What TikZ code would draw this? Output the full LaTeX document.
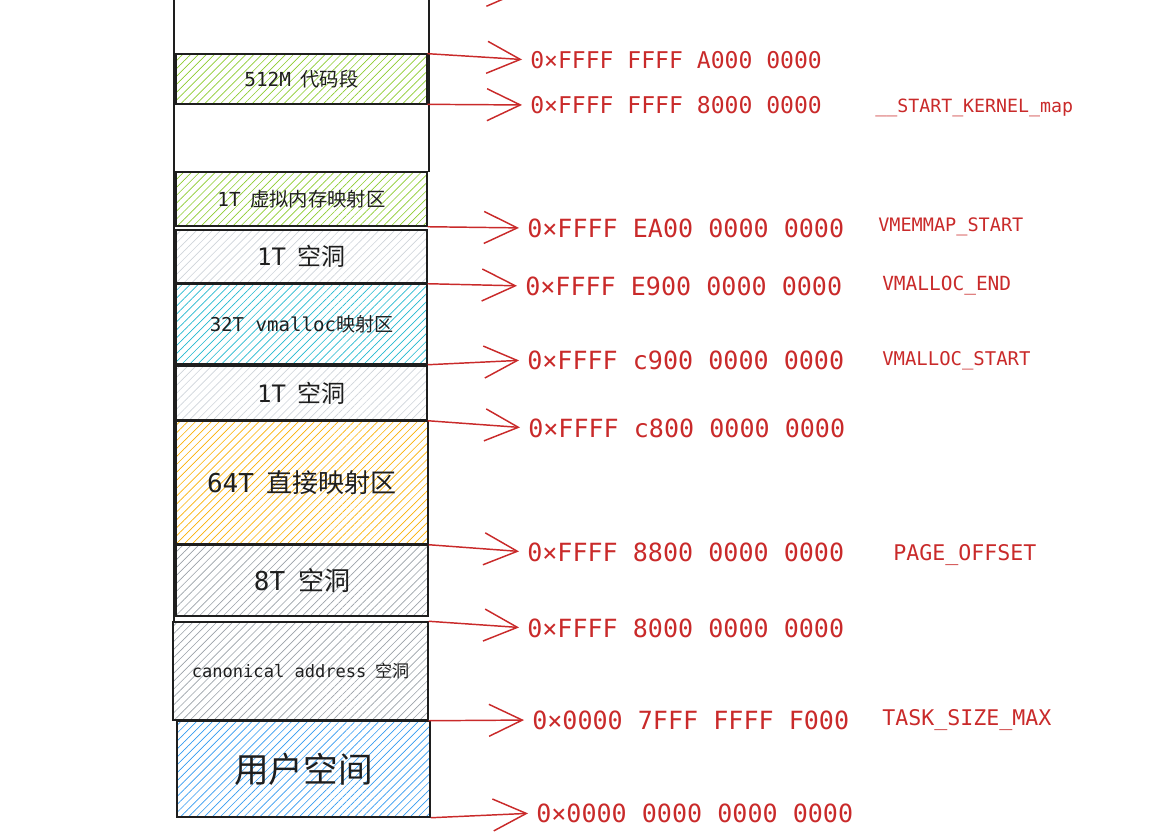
\documentclass[tikz,border=0pt]{standalone}
\usepackage{fontspec}
\setmonofont{DejaVu Sans Mono}
\newfontfamily\monof{DejaVu Sans Mono}
\newfontfamily\cjkf{Noto Sans CJK SC}
\usetikzlibrary{patterns.meta,arrows.meta}
\definecolor{myred}{RGB}{201,42,42}
\definecolor{hgreen}{HTML}{8CCB2E}
\definecolor{hlgray}{HTML}{CED4DA}
\definecolor{hcyan}{HTML}{22B8CF}
\definecolor{hyellow}{HTML}{FAB005}
\definecolor{hgray}{HTML}{9AA1A8}
\definecolor{hblue}{HTML}{339AF0}
\definecolor{ink}{HTML}{1E1E1E}
\tikzset{
  blk/.style n args={2}{draw=ink, line width=1.1pt, rectangle, inner sep=0pt,
     minimum width=#1, minimum height=#2, text=ink},
  hatch/.style={pattern={Lines[angle=45,distance=4.2pt,line width=0.5pt]}, pattern color=#1},
  arr/.style={draw=myred, line width=1.1pt, -{Straight Barb[length=25pt,width=24pt]}, shorten >=6pt},
  addrA/.style={text=myred, inner sep=0pt, anchor=west, font=\monof\fontsize{17.3}{20}\selectfont},
  addrB/.style={text=myred, inner sep=0pt, anchor=west, font=\monof\fontsize{18.8}{22}\selectfont},
  tag/.style={text=myred, inner sep=0pt, anchor=west, font=\monof\fontsize{#1}{#1}\selectfont},
  outline/.style={draw=ink, line width=1.1pt}
}
\newcommand{\lab}[3]{{\fontsize{#1}{#1}\selectfont\monof #2\hspace{0.5em}\cjkf #3}}
\begin{document}
\begin{tikzpicture}[x=0.75pt,y=-0.75pt]
\useasboundingbox (0,0) rectangle (1171,839);
% outer frame of the top (white) region
\draw[outline] (174,-5) -- (174,622);
\draw[outline] (429,-5) -- (429,172);
% blocks
\node[blk={188.25pt}{37.5pt}, hatch=hgreen] (code) at (301.5,79) {\lab{14.5}{512M}{代码段}};
\node[blk={188.25pt}{40.5pt}, hatch=hgreen] (vmemmap) at (301.5,199) {\lab{14.5}{1T}{虚拟内存映射区}};
\node[blk={188.25pt}{39.75pt}, hatch=hlgray] (holeA) at (301.5,256.5) {\lab{18}{1T}{空洞}};
\node[blk={188.25pt}{60pt}, hatch=hcyan] (vmalloc) at (301.5,324) {{\fontsize{14.3}{14.3}\selectfont\monof 32T vmalloc\cjkf 映射区}};
\node[blk={188.25pt}{40.5pt}, hatch=hlgray] (holeB) at (301.5,393) {\lab{18}{1T}{空洞}};
\node[blk={189pt}{92.25pt}, hatch=hyellow] (direct) at (302,482.5) {\lab{19.5}{64T}{直接映射区}};
\node[blk={189pt}{53.25pt}, hatch=hgray] (holeC) at (302,580.5) {\lab{19.5}{8T}{空洞}};
\node[blk={191.25pt}{73.5pt}, hatch=hgray] (canon) at (300.5,671) {\lab{12.8}{canonical address}{空洞}};
\node[blk={189.75pt}{72pt}, hatch=hblue] (user) at (303.5,769) {{\fontsize{26}{26}\selectfont\cjkf 用户空间}};
% addresses
\node[addrA] (a2) at (530,60) {0×FFFF FFFF A000 0000};
\node[addrA] (a3) at (530,105) {0×FFFF FFFF 8000 0000};
\node[addrB] (a4) at (527,228) {0×FFFF EA00 0000 0000};
\node[addrB] (a5) at (525,286) {0×FFFF E900 0000 0000};
\node[addrB] (a6) at (527,360) {0×FFFF c900 0000 0000};
\node[addrB] (a7) at (528,428) {0×FFFF c800 0000 0000};
\node[addrB] (a8) at (527,552) {0×FFFF 8800 0000 0000};
\node[addrB] (a9) at (527,628) {0×FFFF 8000 0000 0000};
\node[addrB] (a10) at (532,720) {0×0000 7FFF FFFF F000};
\node[addrB] (a11) at (536,813) {0×0000 0000 0000 0000};
% symbolic names
\node[tag=13.7] (n3) at (875,108) {\_\_START\_KERNEL\_map};
\node[tag=13.9] (n4) at (878,227) {VMEMMAP\_START};
\node[tag=14.6] (n5) at (882,286) {VMALLOC\_END};
\node[tag=14.2] (n6) at (882,361) {VMALLOC\_START};
\node[tag=16.2] (n8) at (893,555) {PAGE\_OFFSET};
\node[tag=16.2] (n10) at (882,720) {TASK\_SIZE\_MAX};
% arrows
\coordinate (topS) at (429,-12);
\coordinate (topT) at (530,-8);
\draw[arr] (topS) -- (topT);
\draw[arr] (code.north east) -- (a2.west);
\draw[arr] (code.south east) -- (a3.west);
\draw[arr] (vmemmap.south east) -- (a4.west);
\draw[arr] (holeA.south east) -- (a5.west);
\draw[arr] (vmalloc.south east) -- (a6.west);
\draw[arr] (holeB.south east) -- (a7.west);
\draw[arr] (direct.south east) -- (a8.west);
\draw[arr] (canon.north east) -- (a9.west);
\draw[arr] (canon.south east) -- (a10.west);
\draw[arr] (user.south east) -- (a11.west);
\end{tikzpicture}
\end{document}
